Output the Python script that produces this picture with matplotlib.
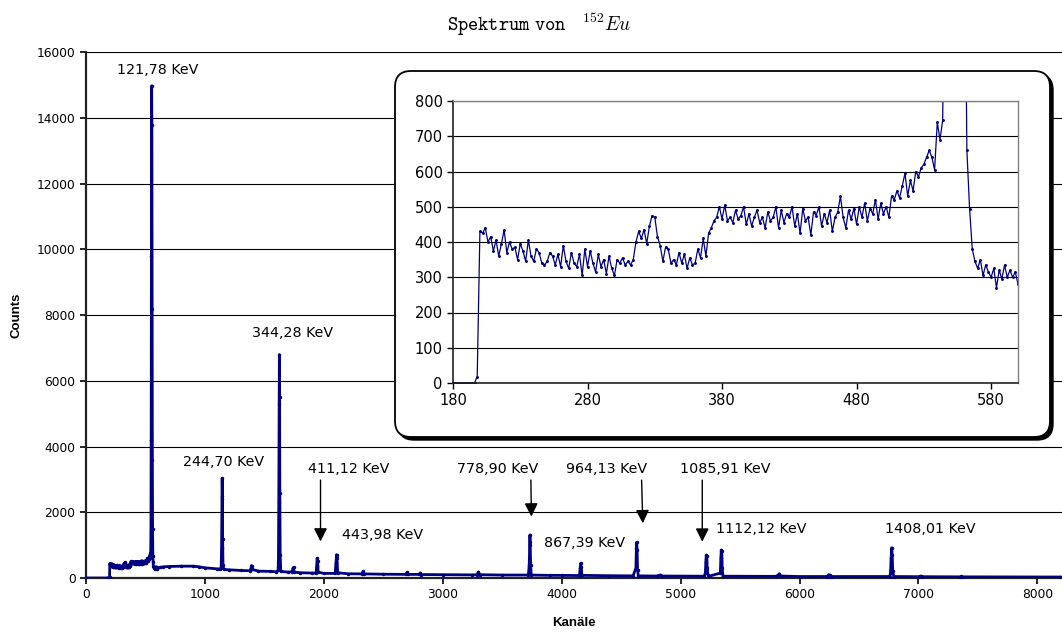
#import necessary libraries
import numpy as np
import matplotlib
matplotlib.use('Agg')
import matplotlib.pyplot as plt
from matplotlib.patches import FancyBboxPatch

plt.rcParams['mathtext.fontset'] = 'cm'

#channels 180..600 in steps of 2 (zoomed region)
kanal_zoom = np.arange(180, 601, 2)
counts_zoom = [
    0, 0, 0, 0, 0, 0, 0, 0, 0, 18,
    430, 425, 440, 400, 415, 375, 405, 360, 395, 435,
    370, 400, 380, 385, 350, 395, 375, 345, 405, 360,
    345, 380, 370, 340, 335, 345, 370, 360, 335, 365,
    330, 390, 345, 325, 370, 340, 330, 365, 305, 380,
    330, 375, 340, 315, 365, 330, 350, 310, 360, 325,
    305, 350, 340, 355, 335, 345, 335, 350, 400, 430,
    410, 435, 395, 445, 475, 470, 415, 390, 345, 385,
    380, 340, 350, 335, 370, 340, 365, 325, 355, 335,
    340, 380, 355, 410, 360, 425, 440, 460, 470, 500,
    465, 505, 460, 470, 455, 490, 465, 475, 500, 450,
    480, 445, 470, 490, 455, 470, 440, 485, 460, 470,
    500, 440, 490, 455, 480, 470, 500, 445, 480, 425,
    495, 460, 470, 420, 485, 475, 500, 445, 480, 455,
    490, 430, 470, 485, 530, 470, 440, 490, 465, 495,
    450, 500, 470, 510, 460, 495, 480, 520, 465, 510,
    480, 500, 470, 530, 520, 545, 525, 560, 595, 530,
    575, 545, 600, 585, 610, 620, 640, 660, 640, 605,
    740, 690, 745, 1400, 4200, 9800, 14980, 13800, 8200, 3600,
    1500, 660, 495, 380, 345, 325, 350, 305, 335, 315,
    300, 325, 270, 320, 295, 335, 300, 320, 300, 315,
    280,
]

#rest of the spectrum (channel, counts)
kanal_rest = [620, 650, 700, 800, 900, 950, 1000, 1100, 1130,
              1136, 1140, 1143, 1145, 1147, 1149, 1152, 1158,
              1200, 1300, 1380, 1388, 1392, 1396, 1450, 1550, 1600, 1615,
              1618, 1621, 1624, 1626, 1628, 1630, 1633, 1638,
              1700, 1735, 1740, 1745, 1750, 1800, 1900, 1935,
              1940, 1944, 1948, 1952,
              2000, 2095, 2102, 2107, 2111, 2116,
              2200, 2320, 2330, 2340, 2500, 2690, 2700, 2710, 2800, 2810, 2820,
              3000, 3250, 3290, 3300, 3310, 3500, 3720,
              3727, 3731, 3733, 3735, 3739, 3744,
              3900, 4000, 4150, 4155, 4160, 4164, 4170, 4400, 4600,
              4624, 4628, 4631, 4634, 4638, 4644,
              4800, 4830, 4840, 5200,
              5208, 5212, 5216, 5220, 5224, 5230, 5240,
              5334, 5338, 5342, 5346, 5350, 5356,
              5800, 5820, 5830, 5840, 6000, 6230, 6245, 6255, 6265, 6758,
              6765, 6770, 6775, 6779, 6784, 6792,
              7000, 7020, 7030, 7350, 7360, 7370, 8192]
counts_rest = [320, 340, 350, 360, 360, 340, 310, 280, 270,
               300, 900, 2400, 3030, 2500, 1200, 400, 260,
               250, 230, 220, 300, 380, 260, 210, 200, 190, 230,
               500, 2300, 5300, 6800, 5500, 2600, 700, 200,
               180, 190, 300, 320, 180, 160, 150, 150,
               380, 600, 520, 180,
               140, 140, 450, 710, 600, 160,
               130, 125, 200, 125, 115, 110, 170, 110, 110, 150, 105,
               100, 95, 100, 180, 100, 90, 90,
               400, 1000, 1310, 1100, 400, 90,
               80, 80, 75, 300, 450, 350, 80, 70, 65,
               300, 900, 1090, 850, 250, 65,
               60, 90, 60, 55,
               150, 500, 700, 680, 300, 100, 55,
               150, 600, 850, 820, 300, 55,
               50, 80, 130, 60, 45, 45, 100, 80, 45, 45,
               150, 600, 920, 700, 200, 45,
               40, 60, 40, 35, 50, 35, 30]

kanal = np.concatenate([[0], kanal_zoom, kanal_rest])
counts = np.concatenate([[0], counts_zoom, counts_rest])

#peak labels: text, text position, arrow (start, tip) or None
labels = ['121,78 KeV', '244,70 KeV', '344,28 KeV', '411,12 KeV', '443,98 KeV',
          '778,90 KeV', '867,39 KeV', '964,13 KeV', '1085,91 KeV', '1112,12 KeV',
          '1408,01 KeV']
label_x = [606, 1159, 1741, 2210, 2490, 3461, 4195, 4378, 5378, 5681, 7103]
label_y = [15460, 3530, 7455, 3320, 1310, 3320, 1075, 3320, 3320, 1480, 1480]
arrows = {'411,12 KeV': ((1972, 2980), (1972, 1110)),
          '778,90 KeV': ((3741, 2980), (3745, 1870)),
          '964,13 KeV': ((4672, 2980), (4682, 1665)),
          '1085,91 KeV': ((5182, 2980), (5182, 1105))}

navy = '#000080'
W, H = 1062, 635
fig = plt.figure(figsize=(W / 100, H / 100), dpi=100)

# main spectrum
ax = fig.add_axes([86 / W, 1 - 578 / H, (W - 86) / W, (578 - 52.3) / H], zorder=1)
ax.plot(kanal, counts, color=navy, lw=2.0, marker='.', ms=3, zorder=3)
ax.set_xlim(0, 8207)
ax.set_ylim(0, 16000)
ax.set_xticks(range(0, 8001, 1000))
ax.set_yticks(range(0, 16001, 2000))
ax.grid(axis='y', color='black', lw=0.8)
ax.set_axisbelow(True)
for s in ['top', 'right']:
    ax.spines[s].set_visible(False)
for s in ['left', 'bottom']:
    ax.spines[s].set_linewidth(1.6)
    ax.spines[s].set_color('#222222')
ax.tick_params(direction='out', length=4, width=1.2, labelsize=8.8)
ax.set_xlabel('Kanäle', fontsize=9.5, fontweight='bold', family='Liberation Sans', labelpad=11)
ax.set_ylabel('Counts', fontsize=9.5, fontweight='bold', family='Liberation Sans', labelpad=10)

for txt, x, y in zip(labels, label_x, label_y):
    ax.text(x, y, txt, ha='center', va='center', fontsize=10.3, family='DejaVu Sans', zorder=5)
for txt, (start, tip) in arrows.items():
    ax.annotate('', xy=tip, xytext=start,
                arrowprops=dict(arrowstyle='-|>,head_length=0.4,head_width=0.2',
                                color='black', lw=1, mutation_scale=20,
                                shrinkA=0, shrinkB=0), zorder=5)

fig.text(539 / W, 1 - 25 / H, r'$\mathtt{Spektrum\ von}\ \ \ ^{152}Eu$',
         ha='center', va='center', fontsize=14)

# rounded frame with shadow behind the zoom
box_ax = fig.add_axes([0, 0, 1, 1], zorder=2)
box_ax.set_xlim(0, W)
box_ax.set_ylim(H, 0)
box_ax.axis('off')
box_ax.patch.set_alpha(0)
shadow = FancyBboxPatch((398, 74), 655, 366, boxstyle='round,pad=0,rounding_size=16',
                        facecolor='black', edgecolor='black', lw=1)
box = FancyBboxPatch((395, 71), 655, 366, boxstyle='round,pad=0,rounding_size=16',
                     facecolor='white', edgecolor='black', lw=1.3)
box_ax.add_patch(shadow)
box_ax.add_patch(box)

# zoom on channels 180-600
ax2 = fig.add_axes([453 / W, 1 - 383 / H, (1018 - 453) / W, (383 - 101) / H], zorder=3)
ax2.plot(kanal, counts, color=navy, lw=0.9, marker='.', ms=2.2)
ax2.set_xlim(180, 600)
ax2.set_ylim(0, 800)
ax2.set_xticks(range(180, 581, 100))
ax2.set_yticks(range(0, 801, 100))
ax2.grid(axis='y', color='black', lw=0.8)
ax2.set_axisbelow(True)
for s in ['top', 'right']:
    ax2.spines[s].set_color('#808080')
    ax2.spines[s].set_linewidth(1.0)
for s in ['left', 'bottom']:
    ax2.spines[s].set_color('#222222')
    ax2.spines[s].set_linewidth(1.2)
ax2.tick_params(direction='out', length=4, width=1, labelsize=10.5)

fig.savefig('out.png', dpi=100)
